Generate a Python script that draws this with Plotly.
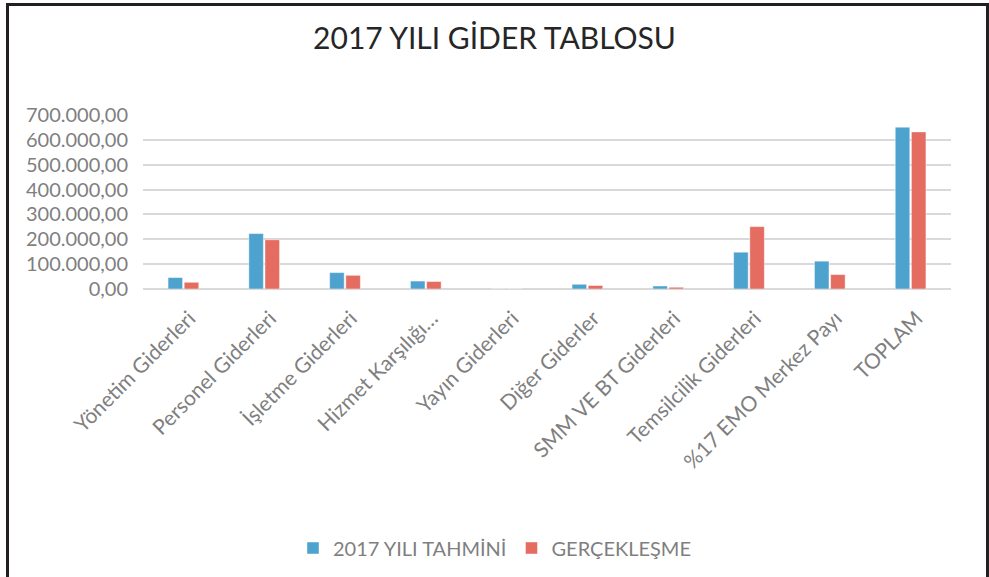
import plotly.graph_objects as go

categories = ["Yönetim Giderleri", "Personel Giderleri", "İşletme Giderleri",
              "Hizmet Karşılığı…", "Yayın Giderleri", "Diğer Giderler",
              "SMM VE BT Giderleri", "Temsilcilik Giderleri",
              "%17 EMO Merkez Payı", "TOPLAM"]
tahmin = [46000, 223000, 66000, 32000, 0, 19000, 12000, 148000, 112000, 651000]
gerceklesme = [27000, 198000, 55000, 30000, 0, 14000, 7000, 251000, 58000, 632000]
y_ticks = [0, 100000, 200000, 300000, 400000, 500000, 600000, 700000]
y_tick_labels = ["0,00", "100.000,00", "200.000,00", "300.000,00",
                 "400.000,00", "500.000,00", "600.000,00", "700.000,00"]

FONT = "Lato"
GRAY = "#7F7F7F"

fig = go.Figure()
fig.add_trace(go.Bar(x=categories, y=tahmin, name="2017 YILI TAHMİNİ",
                     marker=dict(color="#4EA2CE", line=dict(color="rgba(255,255,255,0.45)", width=1))))
fig.add_trace(go.Bar(x=categories, y=gerceklesme, name="GERÇEKLEŞME",
                     marker=dict(color="#E46C60", line=dict(color="rgba(255,255,255,0.45)", width=1))))

W, H = 989, 577
L, R, T, B = 143, 38, 115, 288
pw = W - L - R
ph = H - T - B

def px(x):
    return (x - L) / pw

def py(y):
    return (H - B - y) / ph

fig.update_layout(
    width=W, height=H,
    margin=dict(l=L, r=R, t=T, b=B),
    paper_bgcolor="white", plot_bgcolor="white",
    font=dict(family=FONT, color=GRAY, size=20),
    title=dict(text="2017 YILI GİDER TABLOSU", x=0.5, xref="container", xanchor="center",
               y=1 - 38 / H, yref="container", yanchor="middle",
               font=dict(family=FONT, size=30, color="#262626")),
    barmode="group", bargap=0.6, bargroupgap=0.1,
    showlegend=True,
    legend=dict(orientation="h", x=0.5, xref="container", xanchor="center",
                y=1 - 548 / H, yref="container", yanchor="middle",
                font=dict(family=FONT, size=20, color=GRAY),
                traceorder="normal"),
    shapes=[dict(type="path", xref="paper", yref="paper",
                 path=f"M {px(7.5)} {py(600)} L {px(7.5)} {py(4.5)} L {px(987.5)} {py(4.5)} L {px(987.5)} {py(600)}",
                 line=dict(color="#231F20", width=3))],
)
fig.update_xaxes(tickangle=-45, showgrid=False, showline=False, ticks="",
                 ticklabelstandoff=12, ticklabelshift=6,
                 tickfont=dict(family=FONT, size=21, color=GRAY))
fig.update_yaxes(range=[0, 700000], tickvals=y_ticks, ticktext=y_tick_labels,
                 showgrid=True, gridcolor="#D9D9D9", gridwidth=1.5,
                 zeroline=True, zerolinecolor="#D9D9D9", zerolinewidth=1.5,
                 ticks="", ticklabelstandoff=14,
                 tickfont=dict(family=FONT, size=20, color=GRAY))

fig.write_html("out.html", config={"displayModeBar": False},
               post_script="document.body.style.margin='0';document.body.style.overflow='hidden';")
